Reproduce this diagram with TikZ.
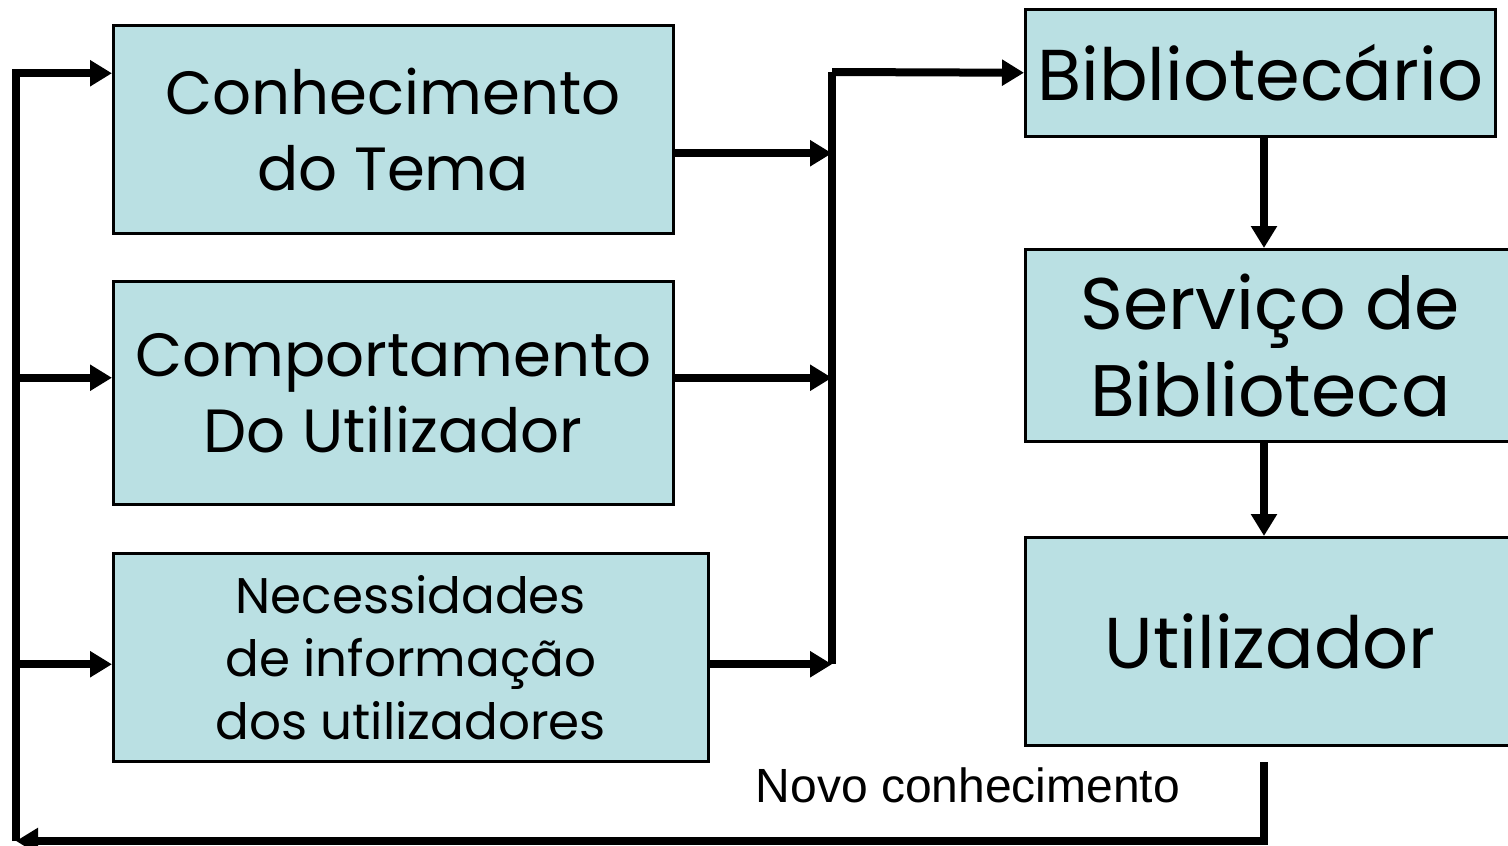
\documentclass[tikz,border=0pt]{standalone}
\usepackage{fontspec}
\setmainfont{Poppins}
\newfontfamily\arialfont{Liberation Sans}
\usetikzlibrary{arrows.meta}

\definecolor{boxblue}{RGB}{186,224,227}

\tikzset{
  box/.style={draw, line width=2.5pt, fill=boxblue, anchor=north west,
    align=center, inner sep=0pt},
  flow/.style={line width=8pt, -{Triangle[length=22pt,width=25pt]}},
  bus/.style={line width=8pt}
}

\begin{document}
\begin{tikzpicture}[x=1pt, y=-1pt]
  \useasboundingbox (0,0) rectangle (1508,846);
  % boxes on the left
  \node[box, minimum width=560pt, minimum height=208pt,
        font=\fontsize{61}{76}\selectfont] (tema) at (112,24) {Conhecimento\\do Tema};
  \node[box, minimum width=560pt, minimum height=223pt,
        font=\fontsize{61}{76}\selectfont] (comport) at (112,280) {Comportamento\\Do Utilizador};
  \node[box, minimum width=595pt, minimum height=208pt,
        font=\fontsize{50}{63}\selectfont] (necess) at (112,552) {Necessidades\\de informação\\dos utilizadores};
  % boxes on the right
  \node[box, minimum width=470pt, minimum height=127pt,
        font=\fontsize{72}{87}\selectfont] (biblio) at (1024,8) {Bibliotecário};
  \node[box, minimum width=490pt, minimum height=192pt,
        font=\fontsize{73}{87}\selectfont] (servico) at (1024,248) {Serviço de\\Biblioteca};
  \node[box, minimum width=490pt, minimum height=208pt,
        font=\fontsize{72}{87}\selectfont] (user) at (1024,536) {Utilizador};
  \node[font=\arialfont\fontsize{48}{56}\selectfont] (novo) at (968,785) {Novo conhecimento};

  \coordinate (lbus) at (16,841);
  \coordinate (rbus) at (832,72);
  \coordinate (fb) at (1264,762);

  % feedback loop
  \draw[flow] (fb) |- (lbus);
  \draw[flow] (lbus) |- ([yshift=56pt]tema.west);
  \draw[flow] ([yshift=15pt]comport.west -| lbus) -- ([yshift=15pt]comport.west);
  \draw[flow] ([yshift=-7pt]necess.west -| lbus) -- ([yshift=-7pt]necess.west);

  % into the bus
  \draw[bus] ([yshift=-7pt]necess.east -| rbus) -- (rbus);
  \draw[flow] ([yshift=-24pt]tema.east) -- ([yshift=-24pt]tema.east -| rbus);
  \draw[flow] ([yshift=15pt]comport.east) -- ([yshift=15pt]comport.east -| rbus);
  \draw[flow] ([yshift=-7pt]necess.east) -- ([yshift=-7pt]necess.east -| rbus);
  \draw[flow] (rbus) -- (biblio.west);

  % down the right
  \draw[flow] (biblio.south -| fb) -- (servico.north -| fb);
  \draw[flow] (servico.south -| fb) -- (user.north -| fb);
\end{tikzpicture}
\end{document}
